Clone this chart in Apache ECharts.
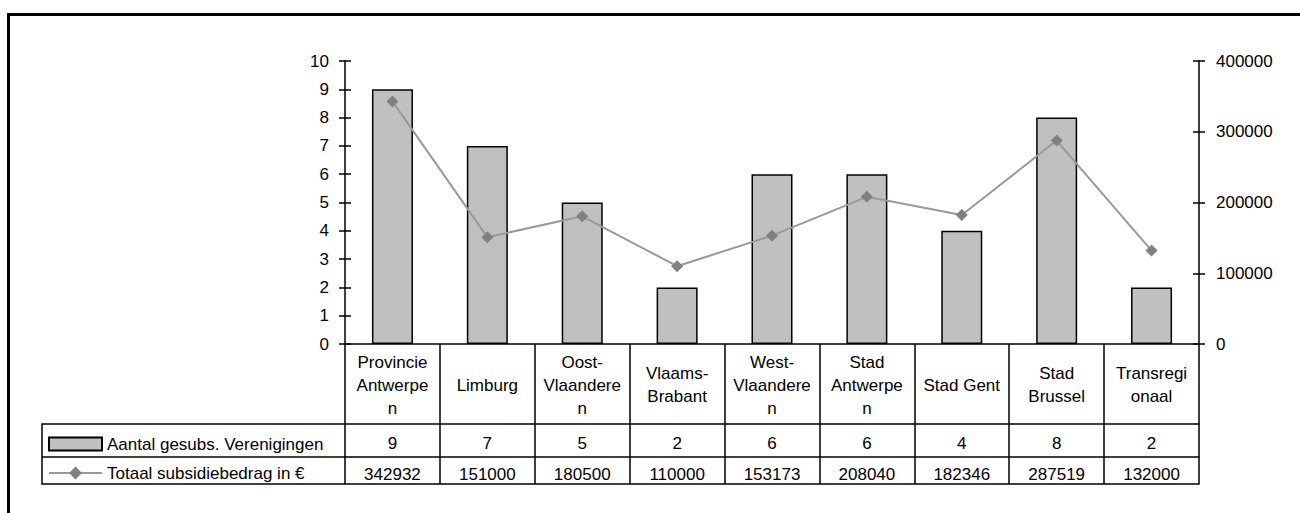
<!DOCTYPE html>
<html>
<head>
    <meta charset="utf-8"/>
    <title>Subsidies per regio</title>
    <script src="https://cdn.jsdelivr.net/npm/echarts@6/dist/echarts.min.js"></script>
    <style>
        html, body { margin: 0; padding: 0; background: #fff; }
        #main { width: 1300px; height: 513px; }
    </style>
</head>
<body>
    <div id="main"></div>
    <script type="text/javascript">
        // categorieen zoals ze in de tabelkop staan (met afbreking zoals in Excel)
        var regio = ['Provincie\nAntwerpe\nn', 'Limburg', 'Oost-\nVlaandere\nn', 'Vlaams-\nBrabant', 'West-\nVlaandere\nn',
            'Stad\nAntwerpe\nn', 'Stad Gent', 'Stad\nBrussel', 'Transregi\nonaal'];
        var aantalVerenigingen = [9, 7, 5, 2, 6, 6, 4, 8, 2];
        var totaalSubsidie = [342932, 151000, 180500, 110000, 153173, 208040, 182346, 287519, 132000];
        var reeksNamen = ['Aantal gesubs. Verenigingen', 'Totaal subsidiebedrag in €'];

        var font = '"Liberation Sans", Arial, sans-serif';
        var zwart = '#000';
        var fs = 17;

        // grid in px
        var gLeft = 345, gRight = 101, gTop = 61, gBottom = 169;
        var asY = 513 - gBottom; // y van de categorie-as (344)

        var myChart = echarts.init(document.getElementById('main'), null, {renderer: 'svg'});

        function tabelAs(data, offset, tickLen, margin, labels) {
            return {
                type: 'category',
                position: 'bottom',
                offset: offset,
                data: data,
                axisLine: {show: true, onZero: false, lineStyle: {color: zwart, width: 1.5}},
                axisTick: {show: tickLen > 0, interval: 0, length: tickLen, lineStyle: {color: zwart, width: 1.5}},
                axisLabel: {
                    show: labels,
                    interval: 0,
                    margin: margin,
                    verticalAlign: 'middle',
                    fontFamily: font,
                    fontSize: fs,
                    lineHeight: 23,
                    color: zwart
                },
                splitLine: {show: false}
            };
        }

        function waardeAs(pos, max, interval, inside, labels, margin) {
            return {
                type: 'value',
                position: pos,
                min: 0,
                max: max,
                interval: interval,
                axisLine: {show: !inside, onZero: false, lineStyle: {color: zwart, width: 1.5}},
                axisTick: {show: true, inside: inside, length: 6, lineStyle: {color: zwart, width: 1.5}},
                axisLabel: {
                    show: labels,
                    margin: margin,
                    fontFamily: font,
                    fontSize: fs,
                    color: zwart,
                    formatter: function (v) { return String(v); }
                },
                splitLine: {show: false}
            };
        }

        function legende(naam, top, h, icon) {
            var item = {name: naam};
            if (icon) item.icon = icon;
            return {
                left: 48,
                top: top,
                padding: 0,
                itemWidth: 53,
                itemHeight: h,
                textStyle: {fontFamily: font, fontSize: fs, color: zwart, lineHeight: 20},
                data: [item]
            };
        }

        var option = {
            animation: false,
            backgroundColor: '#fff',
            grid: {left: gLeft, right: gRight, top: gTop, bottom: gBottom, containLabel: false, outerBoundsMode: 'none'},
            legend: [
                legende(reeksNamen[0], 434, 13, 'rect'),
                legende(reeksNamen[1], 463, 16)
            ],
            xAxis: [
                tabelAs(regio, 0, 80, 41, true),
                tabelAs(aantalVerenigingen.map(String), 80, 33, 19, true),
                tabelAs(totaalSubsidie.map(String), 113, 27, 17, true),
                tabelAs(regio, 140, 0, 0, false)
            ],
            yAxis: [
                waardeAs('left', 10, 1, false, true, 16),
                waardeAs('right', 400000, 100000, false, true, 17),
                waardeAs('left', 10, 1, true, false, 16),
                waardeAs('right', 400000, 100000, true, false, 17)
            ],
            graphic: [
                // kader rond de grafiek
                {
                    type: 'rect',
                    silent: true,
                    shape: {x: 8.5, y: 14.5, width: 1400, height: 600},
                    style: {fill: 'none', stroke: zwart, lineWidth: 3}
                },
                // legende-deel van de tabel links
                {
                    type: 'polyline',
                    silent: true,
                    shape: {points: [[gLeft, asY + 80], [42, asY + 80], [42, asY + 140], [gLeft, asY + 140]]},
                    style: {fill: 'none', stroke: zwart, lineWidth: 1.5}
                },
                {
                    type: 'line',
                    silent: true,
                    shape: {x1: 42, y1: asY + 113, x2: gLeft, y2: asY + 113},
                    style: {stroke: zwart, lineWidth: 1.5}
                }
            ],
            series: [
                {
                    name: reeksNamen[0],
                    type: 'bar',
                    xAxisIndex: 0,
                    yAxisIndex: 0,
                    barWidth: 41,
                    data: aantalVerenigingen,
                    itemStyle: {color: '#c0c0c0', borderColor: zwart, borderWidth: 1.5}
                },
                {
                    name: reeksNamen[1],
                    type: 'line',
                    xAxisIndex: 0,
                    yAxisIndex: 1,
                    data: totaalSubsidie,
                    symbol: 'diamond',
                    symbolSize: 12,
                    lineStyle: {color: '#999999', width: 2},
                    itemStyle: {color: '#808080'}
                }
            ]
        };

        myChart.setOption(option);
    </script>
</body>
</html>
